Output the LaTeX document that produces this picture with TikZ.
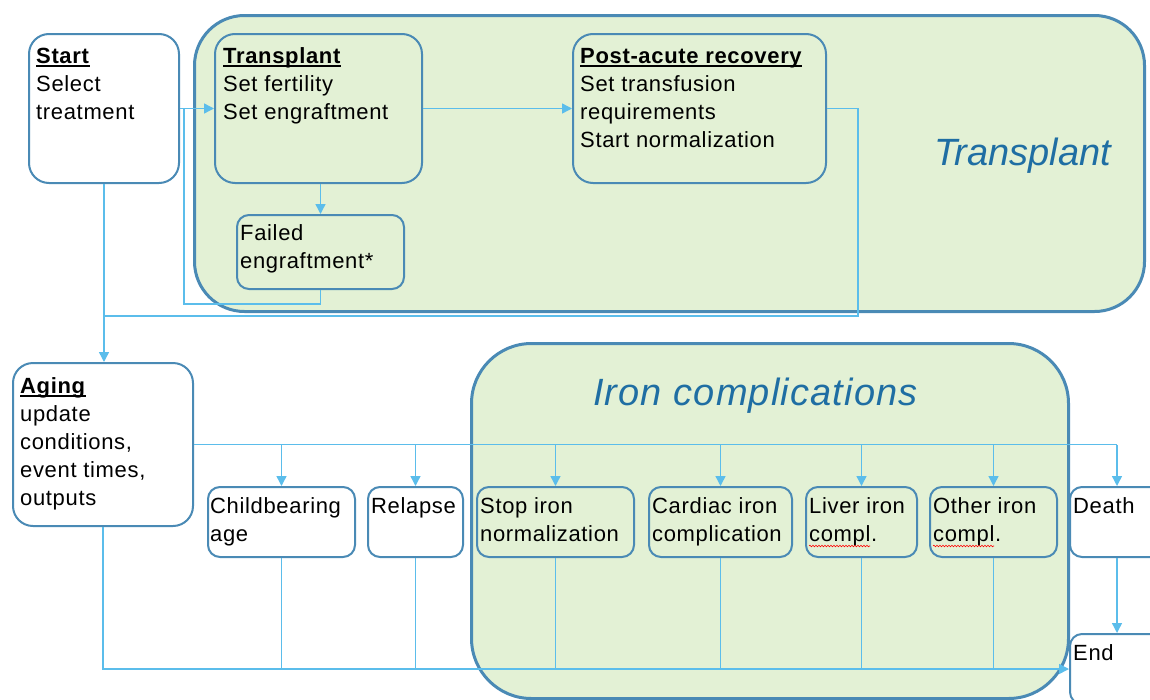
\documentclass[tikz,border=0pt]{standalone}
\usepackage{fontspec}
\setmainfont{Liberation Sans}[LetterSpace=3]
\newfontfamily\panelfont{Liberation Sans}
\newfontfamily\widepanelfont{Liberation Sans}[LetterSpace=3]
\usetikzlibrary{arrows.meta,decorations.pathmorphing}

\definecolor{frameblue}{HTML}{4A8AB5}
\definecolor{panelgreen}{HTML}{E3F1D5}
\definecolor{linkblue}{HTML}{5BBDEB}
\definecolor{titleblue}{HTML}{1F6EA3}

% bold heading with a rule under it
\newcommand\hdr[1]{\leavevmode\setbox0\hbox{\textbf{#1}}\rlap{\usebox0}\rule[-3.5pt]{\wd0}{1.3pt}}
% box text, first baseline at the node's base anchor
\newcommand\txt[1]{\parbox[t]{400pt}{\raggedright\fontsize{22}{28}\selectfont #1}}

\tikzset{
  panel/.style={draw=frameblue, line width=3pt, fill=panelgreen, anchor=north west, inner sep=0pt},
  stepbox/.style={draw=frameblue, line width=2pt, anchor=north west, inner sep=0pt, rounded corners=12pt},
  whitebox/.style={stepbox, fill=white},
  boxtext/.style={anchor=base west, inner sep=0pt},
  link/.style={draw=linkblue, line width=1.4pt},
  arr/.style={link, -{Triangle[length=10pt,width=10pt]}},
  paneltitle/.style={anchor=base west, inner sep=0pt, text=titleblue, font=\panelfont\itshape\fontsize{38}{40}\selectfont},
  spell/.style={draw=red, line width=0.6pt, decorate, decoration={snake, amplitude=0.8pt, segment length=3pt}}
}

\begin{document}
\begin{tikzpicture}[x=1pt, y=-1pt]
\useasboundingbox (0,0) rectangle (1150,699);
\clip (0,0) rectangle (1150,699);

% grouping panels
\node[panel, rounded corners=50pt, minimum width=950pt, minimum height=296pt] (tpanel) at (193,14) {};
\node[panel, rounded corners=60pt, minimum width=597pt, minimum height=355pt] (ipanel) at (470,342) {};
\node[paneltitle] (tpanelT) at (934,165) {Transplant};
\node[paneltitle, font=\widepanelfont\itshape\fontsize{38}{40}\selectfont] (ipanelT) at (593,405) {Iron complications};

% states
\node[whitebox, rounded corners=20pt, minimum width=150pt, minimum height=149pt] (start) at (28,33) {};
\node[stepbox, rounded corners=20pt, minimum width=207pt, minimum height=149pt] (tbox) at (214,33) {};
\node[stepbox, rounded corners=20pt, minimum width=253pt, minimum height=149pt] (post) at (572,33) {};
\node[stepbox, minimum width=167pt, minimum height=74pt] (failed) at (236,214) {};
\node[whitebox, rounded corners=20pt, minimum width=180pt, minimum height=163pt] (aging) at (12,362) {};
\node[whitebox, minimum width=147pt, minimum height=70pt] (child) at (207,486) {};
\node[whitebox, minimum width=95pt, minimum height=70pt] (relapse) at (367,486) {};
\node[stepbox, minimum width=157pt, minimum height=70pt] (stopiron) at (476,486) {};
\node[stepbox, minimum width=143pt, minimum height=70pt] (cardiac) at (648,486) {};
\node[stepbox, minimum width=111pt, minimum height=70pt] (liver) at (805,486) {};
\node[stepbox, minimum width=127pt, minimum height=70pt] (other) at (929,486) {};
\node[whitebox, minimum width=94pt, minimum height=70pt] (death) at (1069,486) {};
\node[whitebox, minimum width=94pt, minimum height=70pt] (end) at (1069,633) {};

% state texts
\node[boxtext] (startT) at (36,63) {\txt{\hdr{Start}\\Select\\treatment}};
\node[boxtext] (tboxT) at (223,63) {\txt{\hdr{Transplant}\\Set fertility\\Set engraftment}};
\node[boxtext] (postT) at (580,63) {\txt{\hdr{Post-acute recovery}\\Set transfusion\\requirements\\Start normalization}};
\node[boxtext] (failedT) at (240,240) {\txt{Failed\\engraftment*}};
\node[boxtext] (agingT) at (20,393) {\txt{\hdr{Aging}\\update\\conditions,\\event times,\\outputs}};
\node[boxtext] (childT) at (210,513) {\txt{Childbearing\\age}};
\node[boxtext] (relapseT) at (371,513) {\txt{Relapse}};
\node[boxtext] (stopironT) at (480,513) {\txt{Stop iron\\normalization}};
\node[boxtext] (cardiacT) at (652,513) {\txt{Cardiac iron\\complication}};
\node[boxtext] (liverT) at (809,513) {\txt{Liver iron\\compl.}};
\node[boxtext] (otherT) at (933,513) {\txt{Other iron\\compl.}};
\node[boxtext] (deathT) at (1073,513) {\txt{Death}};
\node[boxtext] (endT) at (1073,660) {\txt{End}};

% spelling marks under "compl."
\draw[spell] (809,546) -- (870,546);
\draw[spell] (933,546) -- (994,546);

% junctions
\coordinate (loopin) at (184,107.5);
\coordinate (recjoin) at (103,316);

% transplant phase
\draw[arr] (start.east) -- (tbox.west);
\draw[arr] (failed.north |- tbox.south) -- (failed.north);
\draw[link] (failed.south) -- ++(0,14) -| (loopin);
\draw[arr] (tbox.east) -- (post.west);
\draw[link] (post.east) -- ++(31,0) |- (recjoin);
\draw[arr] (start.south) -- (start.south |- aging.north);

% aging fan-out
\draw[link] (aging.east) -- (aging.east -| death.north);
\foreach \t in {child,relapse,stopiron,cardiac,liver,other,death}
  \draw[arr] (\t.north |- aging.east) -- (\t.north);

% back to end
\draw[arr] (aging.south) |- (end.west);
\foreach \t in {child,relapse,stopiron,cardiac,liver,other}
  \draw[link] (\t.south) -- (\t.south |- end.west);
\draw[arr] (death.south) -- (end.north);
\end{tikzpicture}
\end{document}
